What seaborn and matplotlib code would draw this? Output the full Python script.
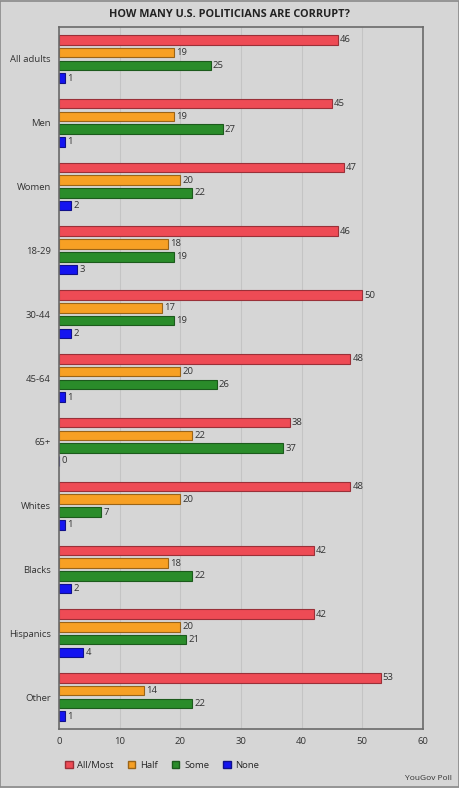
import pandas as pd
import matplotlib
matplotlib.use("Agg")
import matplotlib.pyplot as plt
import matplotlib.patches as mpatches
import seaborn as sns

groups = ["All adults", "Men", "Women", "18-29", "30-44", "45-64", "65+",
          "Whites", "Blacks", "Hispanics", "Other"]
series = ["All/Most", "Half", "Some", "None"]
all_most = [46, 45, 47, 46, 50, 48, 38, 48, 42, 42, 53]
half = [19, 19, 20, 18, 17, 20, 22, 20, 18, 20, 14]
some = [25, 27, 22, 19, 19, 26, 37, 7, 22, 21, 22]
none = [1, 1, 2, 3, 2, 1, 0, 1, 2, 4, 1]
x_ticks = [0, 10, 20, 30, 40, 50, 60]

colors = ["#ee4b55", "#f7a024", "#2a8c2a", "#1414f0"]
edges = ["#9a3038", "#9a6418", "#1c5a1c", "#10108a"]

rows = []
for name, vals in zip(series, [all_most, half, some, none]):
    for g, v in zip(groups, vals):
        rows.append({"Group": g, "Answer": name, "Pct": v})
df = pd.DataFrame(rows)

sns.set_theme(style="white")
plt.rcParams["font.family"] = ["Open Sans", "DejaVu Sans"]

bg = "#d6d6d6"
fig = plt.figure(figsize=(4.59, 7.88), dpi=100, facecolor=bg)
ax = fig.add_axes([0.1285, 0.0749, 0.793, 0.8908])
ax.set_facecolor(bg)

sns.barplot(data=df, y="Group", x="Pct", hue="Answer", order=groups,
            hue_order=series, palette=colors, saturation=1, width=0.8,
            gap=0.25, orient="h", errorbar=None, legend=False, ax=ax,
            linewidth=0.8)

for cont, ec in zip(ax.containers, edges):
    for bar in cont:
        bar.set_edgecolor(ec)
    ax.bar_label(cont, fmt="%d", padding=1.5, fontsize=6.8, color="#333333")

ax.set_xlim(0, 60)
ax.set_xticks(x_ticks)
ax.set_ylim(len(groups) - 0.5, -0.5)
ax.grid(axis="x", color="#c4c4c4", linewidth=0.8)
ax.set_axisbelow(True)
ax.set_xlabel("")
ax.set_ylabel("")
ax.tick_params(axis="both", labelsize=6.8, colors="#333333", length=0, pad=6)
for s in ax.spines.values():
    s.set_color("#6a6a6a")
    s.set_linewidth(1.2)

fig.text(0.5, 0.982, "HOW MANY U.S. POLITICIANS ARE CORRUPT?", ha="center",
         va="center", fontsize=7.8, fontweight="bold", color="#222222")
fig.text(0.985, 0.008, "YouGov Poll", ha="right", va="bottom", fontsize=6,
         color="#333333")

handles = [mpatches.Patch(facecolor=c, edgecolor=e, label=s)
           for s, c, e in zip(series, colors, edges)]
fig.legend(handles=handles, loc="center left", bbox_to_anchor=(0.123, 0.029),
           ncol=4, frameon=False, fontsize=6.8, handlelength=0.8,
           handleheight=0.8, columnspacing=1.5, handletextpad=0.5)

fig.add_artist(mpatches.Rectangle((0.001, 0.001), 0.998, 0.998,
                                  transform=fig.transFigure, fill=False,
                                  edgecolor="#8a8a8a", linewidth=1.2))

fig.savefig("out.png", dpi=100, facecolor=bg)
